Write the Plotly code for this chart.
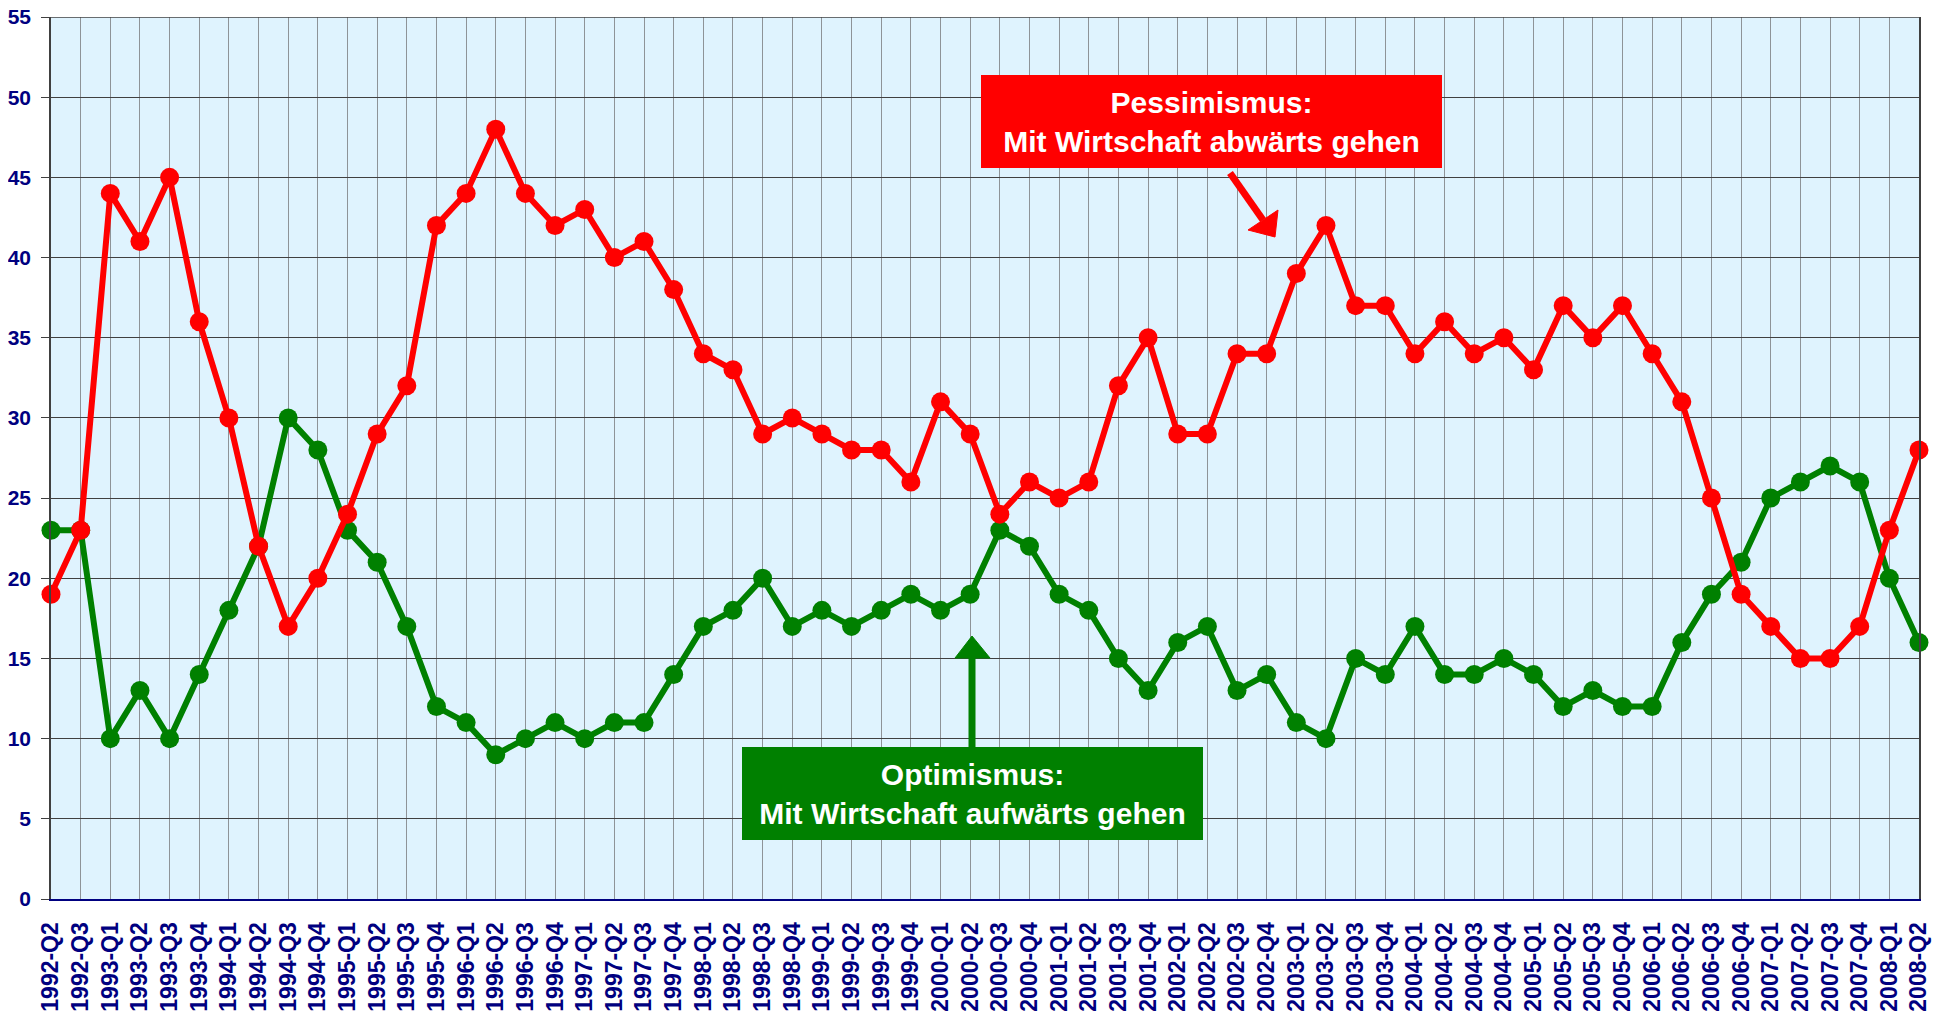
import plotly.graph_objects as go

quarters = [
    "1992-Q2", "1992-Q3",
    "1993-Q1", "1993-Q2", "1993-Q3", "1993-Q4",
    "1994-Q1", "1994-Q2", "1994-Q3", "1994-Q4",
    "1995-Q1", "1995-Q2", "1995-Q3", "1995-Q4",
    "1996-Q1", "1996-Q2", "1996-Q3", "1996-Q4",
    "1997-Q1", "1997-Q2", "1997-Q3", "1997-Q4",
    "1998-Q1", "1998-Q2", "1998-Q3", "1998-Q4",
    "1999-Q1", "1999-Q2", "1999-Q3", "1999-Q4",
    "2000-Q1", "2000-Q2", "2000-Q3", "2000-Q4",
    "2001-Q1", "2001-Q2", "2001-Q3", "2001-Q4",
    "2002-Q1", "2002-Q2", "2002-Q3", "2002-Q4",
    "2003-Q1", "2003-Q2", "2003-Q3", "2003-Q4",
    "2004-Q1", "2004-Q2", "2004-Q3", "2004-Q4",
    "2005-Q1", "2005-Q2", "2005-Q3", "2005-Q4",
    "2006-Q1", "2006-Q2", "2006-Q3", "2006-Q4",
    "2007-Q1", "2007-Q2", "2007-Q3", "2007-Q4",
    "2008-Q1", "2008-Q2",
]

pessimismus = [
    19, 23,
    44, 41, 45, 36,
    30, 22, 17, 20,
    24, 29, 32, 42,
    44, 48, 44, 42,
    43, 40, 41, 38,
    34, 33, 29, 30,
    29, 28, 28, 26,
    31, 29, 24, 26,
    25, 26, 32, 35,
    29, 29, 34, 34,
    39, 42, 37, 37,
    34, 36, 34, 35,
    33, 37, 35, 37,
    34, 31, 25, 19,
    17, 15, 15, 17,
    23, 28,
]

optimismus = [
    23, 23,
    10, 13, 10, 14,
    18, 22, 30, 28,
    23, 21, 17, 12,
    11, 9, 10, 11,
    10, 11, 11, 14,
    17, 18, 20, 17,
    18, 17, 18, 19,
    18, 19, 23, 22,
    19, 18, 15, 13,
    16, 17, 13, 14,
    11, 10, 15, 14,
    17, 14, 14, 15,
    14, 12, 13, 12,
    12, 16, 19, 21,
    25, 26, 27, 26,
    20, 16,
]

y_ticks = list(range(0, 56, 5))

label_pess = "<b>Pessimismus:</b><br><b>Mit Wirtschaft abwärts gehen</b>"
label_opt = "<b>Optimismus:</b><br><b>Mit Wirtschaft aufwärts gehen</b>"

RED = "#FF0000"
GREEN = "#008000"
NAVY = "#000080"
FONT = "Liberation Sans, Arial, sans-serif"

fig = go.Figure()

fig.add_trace(go.Scatter(
    x=quarters, y=optimismus, mode="lines+markers",
    line=dict(color=GREEN, width=6),
    marker=dict(color=GREEN, size=19),
    cliponaxis=False, showlegend=False, name="Optimismus",
))
fig.add_trace(go.Scatter(
    x=quarters, y=pessimismus, mode="lines+markers",
    line=dict(color=RED, width=6),
    marker=dict(color=RED, size=19),
    cliponaxis=False, showlegend=False, name="Pessimismus",
))

# page body has an 8px margin; figure is laid out in page pixel terms
OFF = 8
W, H = 1941 - OFF, 1016 - OFF
PL, PT, PR, PB = 51, 17, 1919, 899  # plot area in page pixels
L, T = PL - OFF, PT - OFF
R = W - (PR - OFF)
B = H - (PB - OFF)
PW, PH = PR - PL, PB - PT


def px2paper(px, py):
    return (px - PL) / PW, (PB - py) / PH


annotations = []
for text, bg, cx, cy in [
    (label_pess, RED, 1211.5, 121.5),
    (label_opt, GREEN, 972.5, 793.5),
]:
    ax_, ay_ = px2paper(cx, cy)
    annotations.append(dict(
        text=text, xref="paper", yref="paper", x=ax_, y=ay_,
        xanchor="center", yanchor="middle", showarrow=False,
        font=dict(family=FONT, size=30, color="white"),
        bgcolor=bg, borderpad=0, borderwidth=0, width=461, height=93,
        align="center", valign="middle",
    ))

shapes = []
# top border of the plot area
shapes.append(dict(type="line", xref="paper", yref="y", x0=0, x1=1,
                   y0=y_ticks[-1], y1=y_ticks[-1],
                   line=dict(color="#404040", width=1.5)))
rx, ry = px2paper(1275, 237)
shapes.append(dict(type="path", xref="paper", yref="paper",
                   xsizemode="pixel", ysizemode="pixel", xanchor=rx, yanchor=ry,
                   path="M -45,64 L -12,17", line=dict(color=RED, width=7)))
shapes.append(dict(type="path", xref="paper", yref="paper",
                   xsizemode="pixel", ysizemode="pixel", xanchor=rx, yanchor=ry,
                   path="M 0,0 L -27,7 L 3,27 Z", fillcolor=RED,
                   line=dict(color=RED, width=1)))
gx, gy = px2paper(972, 636)
shapes.append(dict(type="path", xref="paper", yref="paper",
                   xsizemode="pixel", ysizemode="pixel", xanchor=gx, yanchor=gy,
                   path="M 0,-111 L 0,-20", line=dict(color=GREEN, width=7)))
shapes.append(dict(type="path", xref="paper", yref="paper",
                   xsizemode="pixel", ysizemode="pixel", xanchor=gx, yanchor=gy,
                   path="M 0,0 L -17,-22 L 18,-22 Z", fillcolor=GREEN,
                   line=dict(color=GREEN, width=1)))

fig.update_layout(
    width=W, height=H,
    margin=dict(l=L, r=R, t=T, b=B, pad=0),
    paper_bgcolor="white",
    plot_bgcolor="#DFF3FE",
    annotations=annotations,
    shapes=shapes,
    xaxis=dict(
        type="category", range=[0, len(quarters) - 1],
        tickmode="array", tickvals=quarters,
        ticktext=["<b>" + q + "</b>" for q in quarters],
        tickangle=-90,
        tickfont=dict(family=FONT, size=23, color=NAVY),
        showgrid=True, gridcolor="#8E9398", gridwidth=1,
        showline=True, linecolor=NAVY, linewidth=2,
        ticks="", ticklabelstandoff=12,
        zeroline=False, automargin=False, fixedrange=True,
    ),
    yaxis=dict(
        range=[0, 55], tickmode="array", tickvals=y_ticks,
        ticktext=["<b>%d</b>" % v for v in y_ticks],
        tickfont=dict(family=FONT, size=21, color=NAVY),
        showgrid=True, gridcolor="#404040", gridwidth=1,
        showline=True, linecolor="#404040", linewidth=1.5, mirror=True,
        ticks="outside", ticklen=8, tickcolor="#404040", tickwidth=1,
        zeroline=False, automargin=False, fixedrange=True,
        ticklabelstandoff=6, ticklabeloverflow="allow",
    ),
)

fig.write_html("out.html", config={"displayModeBar": False})
